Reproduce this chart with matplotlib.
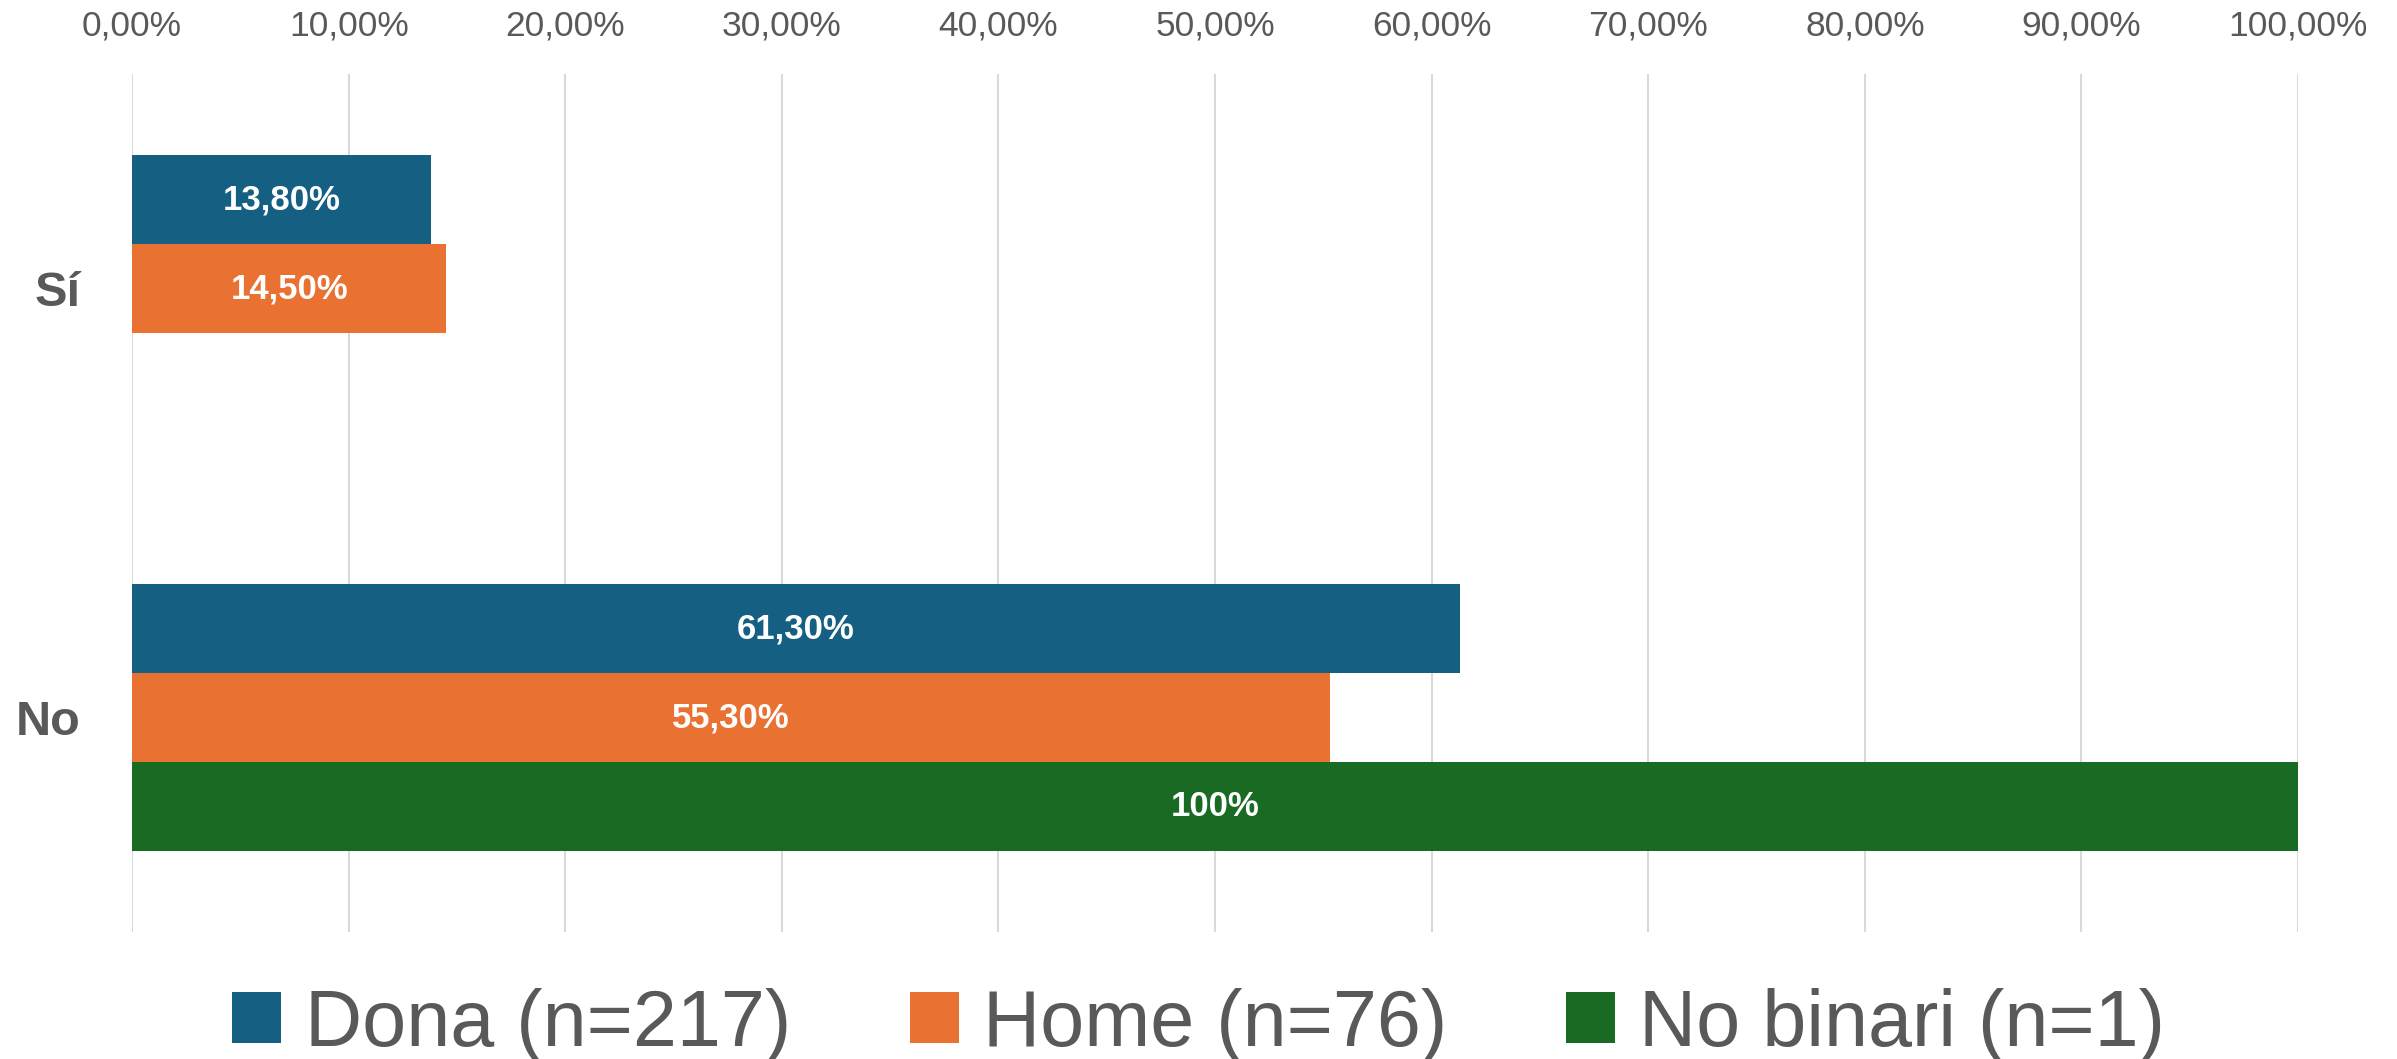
import matplotlib.pyplot as plt
import numpy as np

plt.rcParams['font.family'] = ['Liberation Sans', 'DejaVu Sans']

categories = ['Sí', 'No']
series = ['Dona (n=217)', 'Home (n=76)', 'No binari (n=1)']
dona = [13.8, 61.3]
home = [14.5, 55.3]
no_binari = [0.0, 100.0]
labels_dona = ['13,80%', '61,30%']
labels_home = ['14,50%', '55,30%']
labels_nb = ['', '100%']
ticks = [0, 10, 20, 30, 40, 50, 60, 70, 80, 90, 100]
tick_labels = ['0,00%', '10,00%', '20,00%', '30,00%', '40,00%', '50,00%',
               '60,00%', '70,00%', '80,00%', '90,00%', '100,00%']

colors = ['#156082', '#E97132', '#196B24']
gray = '#595959'

fig = plt.figure(figsize=(23.97, 10.59), dpi=100)
ax = fig.add_axes([0.0551, 0.1199, 0.9036, 0.8102])

y = np.arange(len(categories))
h = 0.2075
vals = [dona, home, no_binari]
labs = [labels_dona, labels_home, labels_nb]
for i, (v, lab) in enumerate(zip(vals, labs)):
    bars = ax.barh(y + (i - 1) * h, v, height=h, color=colors[i],
                   label=series[i], zorder=3)
    ax.bar_label(bars, labels=lab, label_type='center', color='white',
                 fontsize=25, fontweight='bold')

ax.set_xlim(0, 100)
ax.set_ylim(1.5, -0.5)
ax.xaxis.tick_top()
ax.set_xticks(ticks)
ax.set_xticklabels(tick_labels, fontsize=25.5, color=gray)
ax.set_yticks(y)
ax.set_yticklabels(categories, fontsize=35, fontweight='bold', color=gray)
ax.tick_params(axis='x', length=0, pad=23)
ax.tick_params(axis='y', length=0, pad=37)
ax.grid(axis='x', color='#d9d9d9', linewidth=1.5, zorder=0)
for s in ax.spines.values():
    s.set_visible(False)

fig.legend(loc='center', bbox_to_anchor=(0.5, 0.032), ncol=3, frameon=False,
           fontsize=57, labelcolor=gray, handlelength=0.62, handleheight=0.62,
           handletextpad=0.3, columnspacing=1.5)

fig.savefig('out.png', dpi=100)
